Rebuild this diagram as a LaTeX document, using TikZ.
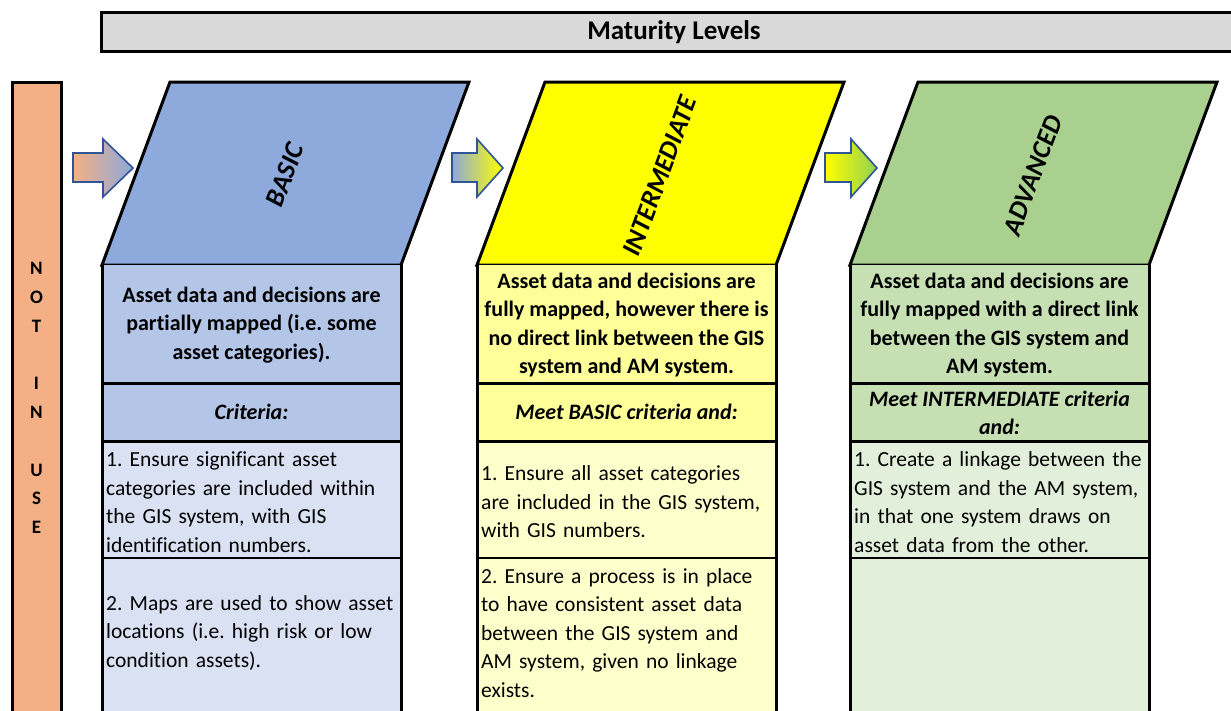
\documentclass[tikz,border=0pt]{standalone}
\usepackage{fontspec}
\setmainfont{Carlito}[Ligatures=CommonOff]
\frenchspacing
\definecolor{titlegray}{HTML}{D9D9D9}
\definecolor{nousebar}{HTML}{F4B084}
\definecolor{arrowline}{HTML}{2F5597}
\definecolor{basicdark}{HTML}{8EA9DB}
\definecolor{basicmid}{HTML}{B4C6E7}
\definecolor{basiclight}{HTML}{D9E1F2}
\definecolor{interdark}{HTML}{FFFF00}
\definecolor{intermid}{HTML}{FFFF99}
\definecolor{interlight}{HTML}{FFFFCC}
\definecolor{advdark}{HTML}{A9D08E}
\definecolor{advmid}{HTML}{C6E0B4}
\definecolor{advlight}{HTML}{E2EFDA}
\definecolor{arrowgreen}{HTML}{92D050}

% one maturity column: #1 left x, #2 name prefix, #3 header colour, #4 upper rows, #5 lower rows
\newcommand\levelcolumn[5]{%
  \coordinate (#2-tl) at (#1+68,82);
  \coordinate (#2-tr) at (#1+367,82);
  \coordinate (#2-br) at (#1+299,265);
  \coordinate (#2-bl) at (#1,265);
  \draw[frame, fill=#3] (#2-tl) -- (#2-tr) -- (#2-br) -- (#2-bl) -- cycle;
  \fill[#4] (#1,265) rectangle (#1+299,441);
  \fill[#5] (#1,441) rectangle (#1+299,730);
  \draw[rowline] (#1,558) -- (#1+299,558);
  \draw[frame] (#1,383) -- (#1+299,383);
  \draw[frame] (#1,441) -- (#1+299,441);
  \draw[frame] (#1,265) -- (#1,730);
  \draw[frame] (#1+299,265) -- (#1+299,730);
}
% block arrow: #1 tail x, #2 head base x, #3 tip x, #4 left colour, #5 right colour
\newcommand\blockarrow[5]{%
  \path[arrowshape, left color=#4, right color=#5]
    (#1,153) -- (#2,153) -- (#2,139) -- (#3,168) -- (#2,197) -- (#2,182) -- (#1,182) -- cycle;
}

\begin{document}
\begin{tikzpicture}[x=1pt, y=-1pt,
  frame/.style={line width=3pt, line join=miter, draw=black},
  rowline/.style={line width=1.5pt, draw=black},
  arrowshape/.style={draw=arrowline, line width=1.6pt, line join=miter},
  bodytext/.style={inner sep=0pt, font=\fontsize{21.5}{28.5}\selectfont},
  headtext/.style={bodytext, align=center, font=\fontsize{22}{28.5}\selectfont\bfseries},
  crittext/.style={bodytext, align=center, font=\fontsize{22}{28.5}\selectfont\bfseries\itshape},
  itemtext/.style={bodytext, align=left, text width=290pt, anchor=west},
  leveltext/.style={inner sep=0pt, rotate=69.6, font=\fontsize{27}{30}\selectfont\bfseries\itshape},
]
\useasboundingbox (0,0) rectangle (1231,710);
\clip (0,0) rectangle (1231,710);

% title bar
\draw[frame, fill=titlegray] (101,12) rectangle (1251,51);
\node[inner sep=0pt, font=\fontsize{27}{30}\selectfont\bfseries] (title) at (674,32) {Maturity Levels};

% not-in-use bar
\draw[frame, fill=nousebar] (12,82) rectangle (61,730);
\node[inner sep=0pt, align=center, font=\fontsize{19}{28.8}\selectfont\bfseries] (notinuse) at (36.5,398)
  {N\\O\\T\\\mbox{}\\I\\N\\\mbox{}\\U\\S\\E};

% columns
\levelcolumn{102}{basic}{basicdark}{basicmid}{basiclight}
\levelcolumn{477}{inter}{interdark}{intermid}{interlight}
\levelcolumn{850}{adv}{advdark}{advmid}{advlight}

% arrows between stages
\blockarrow{73}{103}{133}{nousebar}{basicdark}
\blockarrow{452}{477}{503}{basicdark}{interdark}
\blockarrow{825}{851}{877}{interdark}{arrowgreen}

% level names
\node[leveltext] (basiclabel) at (285,175) {BASIC};
\node[leveltext] (interlabel) at (660,176) {INTERMEDIATE};
\node[leveltext] (advlabel) at (1033,175) {ADVANCED};

% BASIC
\node[headtext] (basic-head) at (251.5,325)
  {Asset data and decisions are\\partially mapped (i.e. some\\asset categories).};
\node[crittext] (basic-crit) at (251.5,412) {Criteria:};
\node[itemtext] (basic-one) at (106,502)
  {1. Ensure significant asset\\categories are included within\\the GIS system, with GIS\\identification numbers.};
\node[itemtext] (basic-two) at (106,633)
  {2. Maps are used to show asset\\locations (i.e. high risk or low\\condition assets).};

% INTERMEDIATE
\node[headtext] (inter-head) at (626.5,325)
  {Asset data and decisions are\\fully mapped, however there is\\no direct link between the GIS\\system and AM system.};
\node[crittext] (inter-crit) at (626.5,412) {Meet BASIC criteria and:};
\node[itemtext] (inter-one) at (481,502)
  {1. Ensure all asset categories\\are included in the GIS system,\\with GIS numbers.};
\node[itemtext] (inter-two) at (481,633)
  {2. Ensure a process is in place\\to have consistent asset data\\between the GIS system and\\AM system, given no linkage\\exists.};

% ADVANCED
\node[headtext] (adv-head) at (999.5,325)
  {Asset data and decisions are\\fully mapped with a direct link\\between the GIS system and\\AM system.};
\node[crittext] (adv-crit) at (999.5,413) {Meet INTERMEDIATE criteria\\and:};
\node[itemtext] (adv-one) at (854,502)
  {1. Create a linkage between the\\GIS system and the AM system,\\in that one system draws on\\asset data from the other.};
\end{tikzpicture}
\end{document}
